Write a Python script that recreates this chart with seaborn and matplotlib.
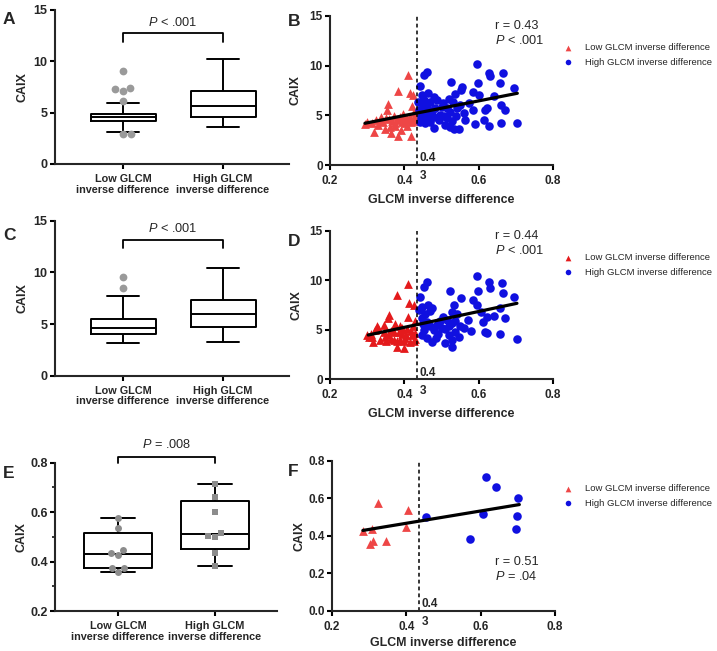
import numpy as np
import pandas as pd
import matplotlib
matplotlib.use("Agg")
import matplotlib.pyplot as plt
import seaborn as sns

# -------------------------------
# 1. Values
# -------------------------------
groups = ["Low", "High"]
group_labels = ["Low GLCM\ninverse difference", "High GLCM\ninverse difference"]
legend_labels = ["Low GLCM inverse difference", "High GLCM inverse difference"]

# box summaries: whisker low, Q1, median, Q3, whisker high
a_low_box = [3.15, 4.22, 4.60, 4.84, 5.97]
a_high_box = [3.64, 4.61, 5.65, 7.11, 10.19]
a_low_outliers = [9.1, 7.4, 7.3, 7.1, 6.1, 2.9, 2.9]

c_low_box = [3.13, 4.03, 4.65, 5.48, 7.74]
c_high_box = [3.23, 4.68, 5.94, 7.32, 10.39]
c_low_outliers = [9.58, 8.45]

# panel B scatter
b_low_x = [0.295, 0.300, 0.312, 0.318, 0.325, 0.330, 0.334, 0.338, 0.343, 0.347,
           0.350, 0.353, 0.357, 0.360, 0.362, 0.365, 0.368, 0.371, 0.374, 0.376,
           0.379, 0.383, 0.384, 0.386, 0.389, 0.391, 0.394, 0.396, 0.399, 0.401,
           0.404, 0.406, 0.408, 0.411, 0.413, 0.414, 0.416, 0.417, 0.419, 0.421,
           0.422, 0.424, 0.425, 0.427, 0.429, 0.431]
b_low_y = [4.1, 4.3, 4.2, 3.3, 4.5, 4.0, 4.4, 4.8, 4.3, 3.6,
           4.7, 5.5, 6.1, 4.6, 3.8, 3.2, 4.4, 4.9, 4.2, 3.9,
           4.6, 7.4, 2.9, 4.5, 4.8, 3.5, 4.3, 5.1, 4.7, 4.2,
           4.6, 3.9, 4.75, 9.1, 4.5, 7.2, 4.8, 2.9, 4.3, 5.9,
           4.65, 7.0, 4.4, 5.3, 4.8, 4.55]
b_high_x = [0.595, 0.461, 0.452, 0.627, 0.631, 0.665, 0.525, 0.658, 0.443, 0.597,
            0.696, 0.555, 0.553, 0.586, 0.465, 0.479, 0.447, 0.600, 0.537, 0.452,
            0.470, 0.505, 0.532, 0.586, 0.622, 0.618, 0.660, 0.672, 0.438, 0.460,
            0.483, 0.516, 0.524, 0.543, 0.550, 0.447, 0.465, 0.479, 0.496, 0.515,
            0.564, 0.615, 0.441, 0.456, 0.470, 0.479, 0.510, 0.524, 0.533, 0.546,
            0.627, 0.660, 0.703, 0.440, 0.445, 0.450, 0.455, 0.462, 0.468, 0.475,
            0.488, 0.492, 0.500, 0.508, 0.520, 0.528, 0.540, 0.560, 0.575, 0.590,
            0.640]
b_high_y = [10.17, 9.39, 9.05, 9.3, 8.96, 9.3, 8.33, 8.22, 7.98, 8.22,
            7.78, 7.82, 7.6, 7.38, 7.2, 6.88, 7.05, 7.05, 7.1, 6.55,
            6.37, 6.2, 6.37, 5.54, 5.7, 5.55, 6.0, 5.54, 6.37, 5.7,
            5.7, 5.7, 5.37, 5.7, 6.04, 5.03, 5.2, 4.87, 5.0, 4.7,
            4.53, 4.53, 4.36, 4.2, 4.36, 3.7, 4.03, 3.86, 3.64, 3.64,
            3.92, 4.2, 4.26, 5.5, 4.8, 5.9, 4.5, 6.0, 4.9, 5.4,
            6.5, 4.5, 5.8, 4.9, 6.6, 4.4, 4.9, 5.2, 6.2, 4.1,
            6.9]
b_fit_x = [0.294, 0.704]
b_fit_y = [4.20, 7.22]

# panel D scatter
d_low_x = [0.411, 0.380, 0.413, 0.425, 0.360, 0.357, 0.410, 0.389, 0.393, 0.330,
           0.321, 0.326, 0.344, 0.357, 0.299, 0.305, 0.317, 0.348, 0.363, 0.371,
           0.380, 0.387, 0.398, 0.416, 0.380, 0.420, 0.405, 0.371, 0.310, 0.335,
           0.345, 0.365, 0.375, 0.395, 0.400, 0.403, 0.408, 0.418, 0.422, 0.428,
           0.430, 0.312, 0.352, 0.385, 0.395, 0.426, 0.430]
d_low_y = [9.6, 8.5, 7.75, 7.45, 6.5, 6.16, 6.33, 5.33, 5.2, 5.16,
           5.0, 5.33, 4.8, 4.47, 4.47, 4.3, 3.74, 4.3, 4.1, 3.97,
           3.9, 4.0, 3.9, 3.8, 3.3, 4.47, 4.5, 4.8, 4.6, 4.0,
           5.5, 4.9, 5.6, 4.6, 3.13, 4.2, 5.1, 4.9, 5.4, 4.1,
           4.7, 4.25, 3.9, 4.75, 5.0, 3.85, 5.9]
d_high_x = [0.595, 0.461, 0.452, 0.627, 0.631, 0.663, 0.665, 0.523, 0.597, 0.694,
            0.553, 0.443, 0.586, 0.595, 0.533, 0.447, 0.465, 0.474, 0.528, 0.541,
            0.622, 0.658, 0.672, 0.447, 0.505, 0.515, 0.461, 0.470, 0.488, 0.501,
            0.519, 0.528, 0.561, 0.613, 0.618, 0.452, 0.447, 0.461, 0.474, 0.519,
            0.546, 0.622, 0.658, 0.703, 0.510, 0.528, 0.528, 0.440, 0.455, 0.468,
            0.480, 0.490, 0.495, 0.510, 0.535, 0.550, 0.570, 0.580, 0.605, 0.640,
            0.450, 0.485, 0.537]
d_high_y = [10.4, 9.79, 9.35, 9.86, 9.25, 9.69, 8.68, 8.91, 8.91, 8.34,
            8.17, 8.34, 8.0, 7.5, 7.5, 7.33, 7.5, 7.23, 6.83, 6.56,
            6.33, 7.16, 6.22, 6.16, 6.33, 6.0, 5.82, 5.33, 5.49, 5.16,
            5.33, 5.66, 5.16, 5.82, 4.8, 4.99, 4.49, 4.13, 3.8, 4.47,
            4.3, 4.65, 4.55, 4.07, 3.63, 3.3, 3.97, 7.0, 6.6, 6.9,
            5.0, 4.6, 5.9, 5.1, 5.9, 5.4, 6.0, 4.9, 6.8, 6.4,
            5.6, 4.2, 4.8]
d_fit_x = [0.303, 0.703]
d_fit_y = [4.47, 7.67]

# panel F scatter (same cases as panel E)
f_low_x = [0.283, 0.307, 0.311, 0.302, 0.325, 0.345, 0.404, 0.399]
f_low_y = [0.427, 0.434, 0.373, 0.356, 0.576, 0.373, 0.537, 0.448]
f_high_x = [0.453, 0.571, 0.605, 0.614, 0.640, 0.701, 0.699, 0.694]
f_high_y = [0.501, 0.381, 0.515, 0.715, 0.661, 0.602, 0.505, 0.436]
f_fit_x = [0.283, 0.704]
f_fit_y = [0.428, 0.566]

cutoff = 0.433

# -------------------------------
# 2. Style
# -------------------------------
sns.set_style("ticks")
plt.rcParams["font.family"] = ["Liberation Sans", "DejaVu Sans"]
plt.rcParams["mathtext.fontset"] = "custom"
plt.rcParams["mathtext.rm"] = "Liberation Sans"
plt.rcParams["mathtext.it"] = "Liberation Sans:italic"
plt.rcParams["mathtext.bf"] = "Liberation Sans:bold"

RED = "#EE4646"
RED_D = "#E41A1C"
BLUE = "#1010E0"
GREY = "#9A9A9A"

W, H = 717, 651
fig = plt.figure(figsize=(W / 100, H / 100), dpi=100)


def add_ax(l, t, r, b):
    return fig.add_axes([l / W, 1 - b / H, (r - l) / W, (b - t) / H])


def finish_axis(ax, yticks, ylabels, label_x, tick_size):
    sns.despine(ax=ax)
    for s in ["left", "bottom"]:
        ax.spines[s].set_linewidth(1.5)
    ax.tick_params(width=1.5, length=3.8, color="black")
    ax.tick_params(axis="y", pad=1.5)
    ax.set_yticks(yticks)
    ax.set_yticklabels(ylabels, fontsize=tick_size, fontweight="bold")
    ax.set_ylabel("CAIX", fontsize=9, fontweight="bold")
    ax.yaxis.set_label_coords(label_x, 0.5)


def box_panel(ax, low_box, high_box, width, xlim):
    df = pd.DataFrame({"group": ["Low"] * 5 + ["High"] * 5,
                       "value": list(low_box) + list(high_box)})
    sns.boxplot(data=df, x="group", y="value", order=groups, whis=(0, 100),
                width=width, fill=False, color="black", linewidth=1.4,
                showfliers=False, ax=ax)
    ax.set_xlim(*xlim)
    ax.set_xticks([0, 1])
    ax.set_xticklabels(group_labels, fontsize=7.8, fontweight="bold",
                       linespacing=1.05)
    ax.set_xlabel("")


def bracket(ax, y0, y1, ytext, text):
    ax.plot([0, 0, 1, 1], [y0, y1, y1, y0], color="black", lw=1.3,
            clip_on=False)
    ax.text(0.5, ytext, text, ha="center", va="center", fontsize=9.2,
            clip_on=False)


def scatter_panel(ax, lx, ly, hx, hy, fx, fy, red, stat_text, stat_xy, leg_xy):
    sns.scatterplot(x=lx, y=ly, marker="^", color=red, s=40, linewidth=0,
                    ax=ax, label=legend_labels[0])
    sns.scatterplot(x=hx, y=hy, marker="o", color=BLUE, s=38, linewidth=0,
                    ax=ax, label=legend_labels[1])
    sns.lineplot(x=fx, y=fy, color="black", lw=2.3, ax=ax, legend=False)
    ax.axvline(cutoff, color="black", lw=1.1, ls=(0, (2.5, 2)))
    ax.set_xlim(0.2, 0.8)
    ax.set_xticks([0.2, 0.4, 0.6, 0.8])
    ax.set_xticklabels(["0.2", "0.4", "0.6", "0.8"], fontsize=8.5,
                       fontweight="bold")
    ax.set_xlabel("GLCM inverse difference", fontsize=8.9, fontweight="bold")
    tr = ax.get_xaxis_transform()
    ax.text(cutoff + 0.008, 0.005, "0.4", transform=tr, ha="left",
            va="bottom", fontsize=8.5, fontweight="bold")
    ax.text(cutoff + 0.008, -0.035, "3", transform=tr, ha="left", va="top",
            fontsize=8.5, fontweight="bold", clip_on=False)
    ax.text(stat_xy[0], stat_xy[1], stat_text, transform=ax.transAxes,
            ha="left", va="top", fontsize=9.2, linespacing=1.2)
    ax.legend(loc="upper left", bbox_to_anchor=(leg_xy[0] / W, 1 - leg_xy[1] / H),
              bbox_transform=fig.transFigure, frameon=False, fontsize=6.8,
              borderpad=0, borderaxespad=0, handlelength=1.0,
              handletextpad=1.3, labelspacing=0.6, markerscale=0.65)


# -------------------------------
# 3. Panels A / C / E (box plots)
# -------------------------------
ax_a = add_ax(55, 10, 289, 164)
box_panel(ax_a, a_low_box, a_high_box, 0.65, (-0.68, 1.66))
out_a = pd.DataFrame({"group": ["Low"] * len(a_low_outliers), "value": a_low_outliers})
sns.swarmplot(data=out_a, x="group", y="value", order=groups, color=GREY,
              size=5.6, ax=ax_a)
ax_a.set_xlim(-0.68, 1.66)
ax_a.set_ylim(0, 15)
finish_axis(ax_a, [0, 5, 10, 15], ["0", "5", "10", "15"], -0.115, 9)
ax_a.set_xlabel("")
bracket(ax_a, 11.9, 12.73, 13.76, r"$\mathit{P}$ < .001")

ax_c = add_ax(55, 220.7, 289, 375.7)
box_panel(ax_c, c_low_box, c_high_box, 0.65, (-0.68, 1.66))
out_c = pd.DataFrame({"group": ["Low"] * len(c_low_outliers), "value": c_low_outliers})
sns.swarmplot(data=out_c, x="group", y="value", order=groups, color=GREY,
              size=5.6, ax=ax_c)
ax_c.set_xlim(-0.68, 1.66)
ax_c.set_ylim(0, 15)
finish_axis(ax_c, [0, 5, 10, 15], ["0", "5", "10", "15"], -0.115, 9)
ax_c.set_xlabel("")
bracket(ax_c, 12.4, 13.1, 14.27, r"$\mathit{P}$ < .001")

ax_e = add_ax(55, 462.7, 277, 611)
e_low_box = [min(f_low_y), *np.percentile(f_low_y, [25, 50, 75], method="weibull"), max(f_low_y)]
e_high_box = [min(f_high_y), *np.percentile(f_high_y, [25, 50, 75], method="weibull"), max(f_high_y)]
box_panel(ax_e, e_low_box, e_high_box, 0.71, (-0.65, 1.64))
pts_low = pd.DataFrame({"group": ["Low"] * len(f_low_y), "value": f_low_y})
pts_high = pd.DataFrame({"group": ["High"] * len(f_high_y), "value": f_high_y})
sns.swarmplot(data=pts_low, x="group", y="value", order=groups, color="#8C8C8C",
              size=5.0, marker="o", ax=ax_e, zorder=5)
sns.swarmplot(data=pts_high, x="group", y="value", order=groups, color="#8C8C8C",
              size=5.0, marker="s", ax=ax_e, zorder=5)
ax_e.set_xlim(-0.65, 1.64)
ax_e.set_ylim(0.2, 0.8)
finish_axis(ax_e, [0.2, 0.4, 0.6, 0.8], ["0.2", "0.4", "0.6", "0.8"], -0.126, 9)
ax_e.set_yticks([0.3, 0.5, 0.7], minor=True)
ax_e.tick_params(axis="y", which="minor", length=2.5, width=1.3)
ax_e.set_xlabel("")
bracket(ax_e, 0.797, 0.824, 0.872, r"$\mathit{P}$ = .008")

# -------------------------------
# 4. Panels B / D / F (scatter)
# -------------------------------
ax_b = add_ax(330, 16, 553, 165)
scatter_panel(ax_b, b_low_x, b_low_y, b_high_x, b_high_y, b_fit_x, b_fit_y, RED,
              "r = 0.43\n" + r"$\mathit{P}$ < .001", (0.74, 0.975), (563, 43))
ax_b.set_ylim(0, 15)
finish_axis(ax_b, [0, 5, 10, 15], ["0", "5", "10", "15"], -0.126, 8.5)
ax_b.xaxis.set_label_coords(0.5, -0.195)

ax_d = add_ax(330, 230.7, 553, 379.3)
scatter_panel(ax_d, d_low_x, d_low_y, d_high_x, d_high_y, d_fit_x, d_fit_y, RED_D,
              "r = 0.44\n" + r"$\mathit{P}$ < .001", (0.74, 1.005), (563, 253))
ax_d.set_ylim(0, 15)
finish_axis(ax_d, [0, 5, 10, 15], ["0", "5", "10", "15"], -0.122, 8.5)
ax_d.xaxis.set_label_coords(0.5, -0.193)

ax_f = add_ax(332, 460.7, 555, 610.7)
scatter_panel(ax_f, f_low_x, f_low_y, f_high_x, f_high_y, f_fit_x, f_fit_y, RED,
              "r = 0.51\n" + r"$\mathit{P}$ = .04", (0.73, 0.365), (563, 484))
ax_f.set_ylim(0, 0.8)
finish_axis(ax_f, [0.0, 0.2, 0.4, 0.6, 0.8], ["0.0", "0.2", "0.4", "0.6", "0.8"], -0.121, 8.5)
ax_f.xaxis.set_label_coords(0.5, -0.175)

# panel letters
for letter, x, y in [("A", 3, 19), ("B", 288, 21), ("C", 3, 235),
                     ("D", 288, 242), ("E", 3, 473), ("F", 288, 471)]:
    fig.text(x / W, 1 - y / H, letter, fontsize=12.5, fontweight="bold",
             ha="left", va="center")

fig.savefig("out.png", dpi=100)
